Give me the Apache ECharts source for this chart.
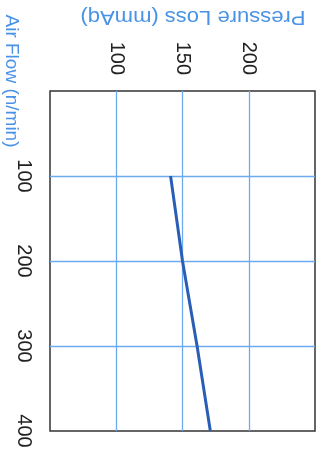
<!DOCTYPE html>
<html>
<head>
<meta charset="utf-8">
<script src="https://cdn.jsdelivr.net/npm/echarts@6/dist/echarts.min.js"></script>
<style>
html,body{margin:0;padding:0;background:#fff;}
#chart{width:322px;height:455px;}
</style>
</head>
<body>
<div id="chart"></div>
<script>
var airFlow = [100, 200, 300, 400];
var pressureLoss = [141, 150, 161, 171];
var pressureTicks = [100, 150, 200];
var airFlowTicks = [100, 200, 300, 400];
var pressureTitle = 'Pressure Loss (mmAq)';
var airFlowTitle = 'Air Flow (n/min)';

var blue = '#4a92e6';
var chart = echarts.init(document.getElementById('chart'));
var data = airFlow.map(function (a, i) { return [pressureLoss[i], a]; });

chart.setOption({
  animation: false,
  grid: { left: 50, right: 7, top: 91, bottom: 24, show: true, borderColor: '#333', borderWidth: 1.5, backgroundColor: 'transparent' },
  xAxis: {
    type: 'value', position: 'top', min: 50, max: 250, interval: 50,
    axisLine: { show: false }, axisTick: { show: false },
    axisLabel: {
      rotate: -90, margin: 16, fontSize: 20, color: '#222', fontFamily: 'Liberation Sans, Arial, sans-serif',
      formatter: function (v) { return pressureTicks.indexOf(v) >= 0 ? String(v) : ''; }
    },
    splitLine: { show: true, showMinLine: false, showMaxLine: false, lineStyle: { color: '#6eaaf0', width: 1.3 } }
  },
  yAxis: {
    type: 'value', inverse: true, min: 0, max: 400, interval: 100,
    axisLine: { show: false }, axisTick: { show: false },
    axisLabel: {
      rotate: -90, margin: 16, fontSize: 20, color: '#222', fontFamily: 'Liberation Sans, Arial, sans-serif',
      formatter: function (v) { return airFlowTicks.indexOf(v) >= 0 ? String(v) : ''; }
    },
    splitLine: { show: true, showMinLine: false, showMaxLine: false, lineStyle: { color: '#6eaaf0', width: 1.3 } }
  },
  graphic: [
    {
      type: 'text', x: 193, y: 17, rotation: Math.PI, scaleX: 1.1, z: 10,
      style: { text: pressureTitle, fill: blue, font: '20px "Liberation Sans", Arial, sans-serif', align: 'center', verticalAlign: 'middle' }
    },
    {
      type: 'text', x: 11, y: 81, rotation: -Math.PI / 2, z: 10,
      style: { text: airFlowTitle, fill: blue, font: '19px "Liberation Sans", Arial, sans-serif', align: 'center', verticalAlign: 'middle' }
    }
  ],
  series: [{
    type: 'line', data: data, showSymbol: false, symbol: 'none',
    lineStyle: { color: '#2a5eb6', width: 3 }
  }]
});
</script>
</body>
</html>
